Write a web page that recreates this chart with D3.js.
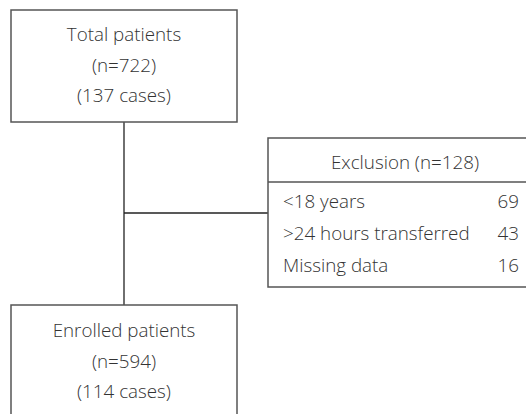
<!DOCTYPE html>
<html>
<head>
<meta charset="utf-8">
<script src="https://cdn.jsdelivr.net/npm/d3@7"></script>
<style>
  html, body { margin: 0; padding: 0; background: #fff; }
  svg { display: block; }
  text { font-family: "Open Sans", "Noto Sans", sans-serif; font-weight: 300; fill: #333; }
</style>
</head>
<body>
<svg id="chart" width="526" height="414"></svg>
<script>
// ---- data ----
const topBoxLines = ["Total patients", "(n=722)", "(137 cases)"];
const exclusionTitle = "Exclusion (n=128)";
const exclusionReasons = ["<18 years", ">24 hours transferred", "Missing data"];
const exclusionCounts = [69, 43, 16];
const bottomBoxLines = ["Enrolled patients", "(n=594)", "(114 cases)"];

// ---- layout ----
const svg = d3.select("#chart");
const fontSize = 18.8;
const boxStroke = "#555";
const lineStroke = "#222";

const leftBox = { x: 11, w: 226 };
const topBox = { y: 10, h: 112 };
const botBox = { y: 305, h: 130 };
const exBox = { x: 268, y: 138, w: 278, headH: 44, h: 149 };
const spineX = leftBox.x + leftBox.w / 2;
const branchY = 213;

// connectors
svg.append("line")
  .attr("x1", spineX).attr("x2", spineX)
  .attr("y1", topBox.y + topBox.h).attr("y2", botBox.y)
  .attr("stroke", lineStroke).attr("stroke-width", 1.3);
svg.append("line")
  .attr("x1", spineX).attr("x2", exBox.x)
  .attr("y1", branchY).attr("y2", branchY)
  .attr("stroke", lineStroke).attr("stroke-width", 1.3);

// left boxes
function drawStackBox(lines, box, offset) {
  svg.append("rect")
    .attr("x", leftBox.x).attr("y", box.y)
    .attr("width", leftBox.w).attr("height", box.h)
    .attr("fill", "#fff").attr("stroke", boxStroke).attr("stroke-width", 1.5);
  const yPos = d3.scalePoint().domain(d3.range(lines.length))
    .range([box.y + offset, box.y + offset + 61]);
  svg.append("g").selectAll("text").data(lines).join("text")
    .attr("x", spineX)
    .attr("y", (d, i) => yPos(i))
    .attr("text-anchor", "middle")
    .attr("font-size", fontSize)
    .text(d => d);
}
drawStackBox(topBoxLines, topBox, 31);
drawStackBox(bottomBoxLines, botBox, 32);

// exclusion box
svg.append("rect")
  .attr("x", exBox.x).attr("y", exBox.y)
  .attr("width", exBox.w).attr("height", exBox.h)
  .attr("fill", "#fff").attr("stroke", boxStroke).attr("stroke-width", 1.5);
svg.append("line")
  .attr("x1", exBox.x).attr("x2", exBox.x + exBox.w)
  .attr("y1", exBox.y + exBox.headH).attr("y2", exBox.y + exBox.headH)
  .attr("stroke", boxStroke).attr("stroke-width", 1.5);
svg.append("text")
  .attr("x", exBox.x + exBox.w / 2 - 2)
  .attr("y", exBox.y + 31)
  .attr("text-anchor", "middle")
  .attr("font-size", fontSize)
  .text(exclusionTitle);

const rowY = d3.scalePoint().domain(exclusionReasons).range([208, 272]);
const rows = svg.append("g").selectAll("g")
  .data(exclusionReasons.map((r, i) => ({ reason: r, count: exclusionCounts[i] })))
  .join("g");
rows.append("text")
  .attr("x", exBox.x + 15)
  .attr("y", d => rowY(d.reason))
  .attr("font-size", fontSize)
  .text(d => d.reason);
rows.append("text")
  .attr("x", 519)
  .attr("y", d => rowY(d.reason))
  .attr("text-anchor", "end")
  .attr("font-size", fontSize)
  .text(d => d.count);
</script>
</body>
</html>
